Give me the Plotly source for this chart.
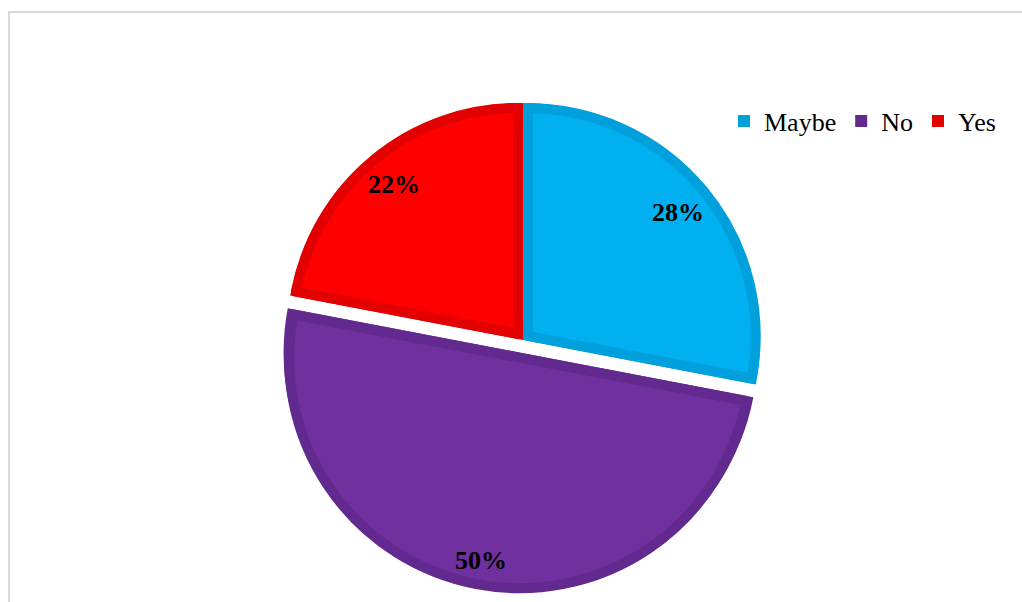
import math
import plotly.graph_objects as go

# Survey responses (percent of respondents)
labels = ["Maybe", "No", "Yes"]
values = [28, 50, 22]
fill_colors = ["#00B0F0", "#7030A0", "#FF0000"]
edge_colors = ["#00A0DC", "#62298E", "#E20000"]
explode_px = [0, 13, 0]          # how far each slice is pulled out

W, H = 1022, 602
serif = "Times New Roman, Liberation Serif, serif"
CLEAR = "rgba(0,0,0,0)"

cx, cy = 523, 340                # pie centre in pixels
R = 238                          # outer radius in pixels
border = 10                      # inner border thickness in pixels

total = sum(values)
n = len(values)


def domain_for(radius, max_pull):
    """Square domain (paper coords) giving Plotly pie radius `radius` around (cx, cy)."""
    half = radius * (1 + max_pull)
    return dict(
        x=[(cx - half) / W, (cx + half) / W],
        y=[1 - (cy + half) / H, 1 - (cy - half) / H],
    )


fig = go.Figure()

# base layer: whole pie in the border colours (also feeds the legend)
base_r = R - 1
base_pull = [e / base_r for e in explode_px]
fig.add_trace(go.Pie(
    labels=labels, values=values, sort=False, direction="clockwise", rotation=0,
    pull=base_pull,
    marker=dict(colors=edge_colors, line=dict(width=0)),
    textinfo="none", hoverinfo="label+percent",
    domain=domain_for(base_r, max(base_pull)),
))

# one layer per slice: the slice shrunk by half the border, stroked with the border
# colour, so every slice carries its own border on the inside of its outline
for i in range(n):
    half_angle = math.pi * values[i] / total
    e = (border / 2) / math.sin(half_angle)        # apex shift that insets both radial edges
    target = R - border / 2
    r_i = target - e * (1 + math.cos(half_angle)) / 2
    p_i = (explode_px[i] + e) / r_i
    fig.add_trace(go.Pie(
        labels=labels, values=values, sort=False, direction="clockwise", rotation=0,
        pull=[p_i if j == i else 0 for j in range(n)],
        marker=dict(
            colors=[fill_colors[j] if j == i else CLEAR for j in range(n)],
            line=dict(
                color=[edge_colors[j] if j == i else CLEAR for j in range(n)],
                width=[border if j == i else 0 for j in range(n)],
            ),
        ),
        textinfo="none", hoverinfo="skip", showlegend=False,
        domain=domain_for(r_i, p_i),
    ))

# percentage labels placed just inside the outer edge of each slice
label_half_w, label_half_h, label_margin = 26, 13, 9
cum = 0
for v, ex in zip(values, explode_px):
    mid = (cum + v / 2) / total * 2 * math.pi
    cum += v
    sx, sy = math.sin(mid), -math.cos(mid)
    extent = label_half_w * abs(sx) + label_half_h * abs(sy)
    rr = R - label_margin - extent + ex
    fig.add_annotation(
        x=(cx + rr * sx) / W, y=1 - (cy + rr * sy) / H, xref="paper", yref="paper",
        text=f"{round(100 * v / total)}%", showarrow=False,
        font=dict(family=serif, size=26, color="black", weight="bold"),
        xanchor="center", yanchor="middle",
    )

# light chart-area frame (top and left edges visible)
fig.add_shape(
    type="rect", xref="paper", yref="paper",
    x0=9 / W, x1=1.05, y0=-0.05, y1=1 - 12 / H,
    line=dict(color="#D9D9D9", width=2), layer="below",
)

fig.update_layout(
    width=W,
    height=H,
    margin=dict(l=0, r=0, t=0, b=0),
    paper_bgcolor="white",
    plot_bgcolor="white",
    showlegend=True,
    legend=dict(
        orientation="h",
        x=724 / W,
        xanchor="left",
        y=1 - 121 / H,
        yanchor="middle",
        font=dict(family=serif, size=26, color="black"),
        itemwidth=30,
        bgcolor="rgba(0,0,0,0)",
    ),
)

fig.write_html("out.html")
